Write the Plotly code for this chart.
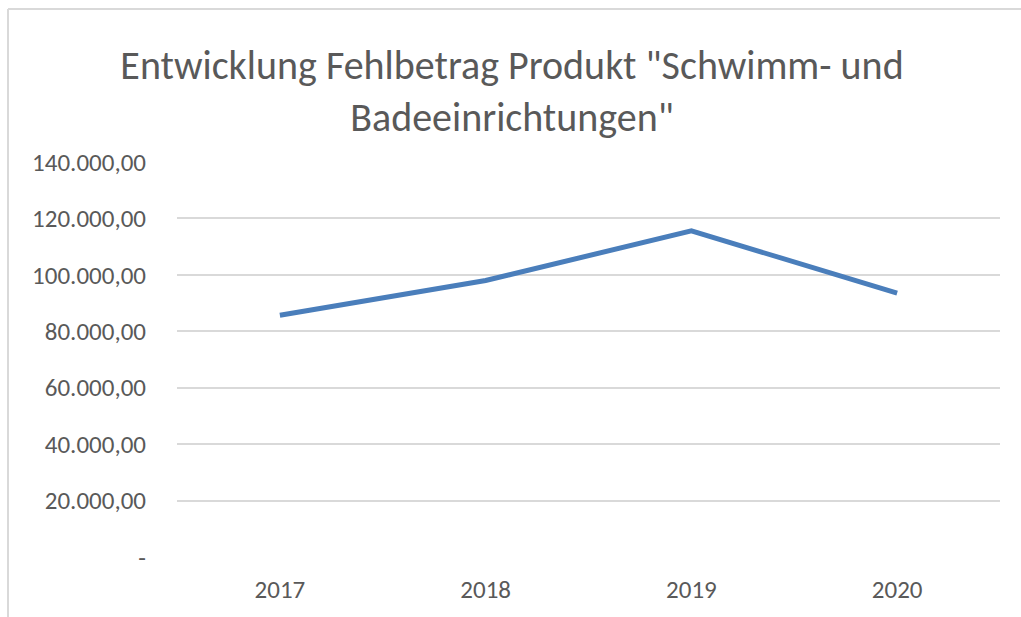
import plotly.graph_objects as go

years = ["2017", "2018", "2019", "2020"]
values = [85700, 98000, 115600, 93500]
y_tick_vals = [0, 20000, 40000, 60000, 80000, 100000, 120000, 140000]
y_tick_text = ["-", "20.000,00", "40.000,00", "60.000,00", "80.000,00",
               "100.000,00", "120.000,00", "140.000,00"]

title_text = 'Entwicklung Fehlbetrag Produkt "Schwimm- und<br>Badeeinrichtungen"'

FONT = "Carlito, Lato, 'Open Sans', sans-serif"
GRAY = "#595959"
GRID = "#d9d9d9"

W, H = 1021, 617
L, R, T, B = 177, 21, 162, 60
pw = W - L - R
ph = H - T - B


def px_x(px):
    return (px - L) / pw


def px_y(py):
    return (H - B - py) / ph


fig = go.Figure()
fig.add_trace(go.Scatter(
    x=years, y=values, mode="lines",
    line=dict(color="#4A7EBB", width=5),
    hoverinfo="x+y",
))

fig.update_layout(
    width=W, height=H,
    margin=dict(l=L, r=R, t=T, b=B),
    paper_bgcolor="white", plot_bgcolor="white",
    showlegend=False,
    title=dict(text=title_text, x=512 / W, xref="container", xanchor="center",
               y=1 - 79 / H, yref="container", yanchor="middle",
               font=dict(family=FONT, size=40, color=GRAY)),
    font=dict(family=FONT, color=GRAY),
    xaxis=dict(type="category", range=[-0.5, 3.5], showgrid=False,
               showline=False, zeroline=False, ticks="",
               tickfont=dict(size=25, color=GRAY), ticklabelstandoff=15),
    yaxis=dict(range=[0, 140000], tickvals=y_tick_vals, ticktext=y_tick_text,
               showgrid=True, gridcolor=GRID, gridwidth=2,
               zeroline=False, showline=False, ticks="",
               tickfont=dict(size=25, color=GRAY), ticklabelstandoff=30),
    shapes=[
        dict(type="line", xref="paper", yref="paper",
             x0=px_x(8), x1=px_x(8), y0=px_y(9), y1=px_y(H),
             line=dict(color=GRID, width=2)),
        dict(type="line", xref="paper", yref="paper",
             x0=px_x(8), x1=px_x(W), y0=px_y(9), y1=px_y(9),
             line=dict(color=GRID, width=2)),
    ],
)

fig.write_html(
    "out.html",
    config={"displayModeBar": False},
    post_script=(
        "document.documentElement.style.overflow='hidden';"
        "document.documentElement.style.margin='0';"
        "document.body.style.margin='0';"
        "document.body.style.overflow='hidden';"
    ),
)
